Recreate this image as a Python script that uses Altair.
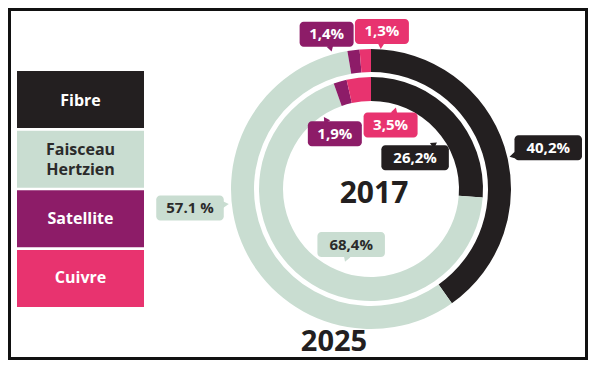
import altair as alt
import pandas as pd

# ---------------- data ----------------
categories = ["Fibre", "Faisceau Hertzien", "Satellite", "Cuivre"]
legend_text = ["Fibre", "Faisceau\nHertzien", "Satellite", "Cuivre"]
years = ["2025", "2017"]
values_2025 = [40.2, 57.1, 1.4, 1.3]
values_2017 = [26.2, 68.4, 1.9, 3.5]
labels_2025 = ["40,2%", "57.1 %", "1,4%", "1,3%"]
labels_2017 = ["26,2%", "68,4%", "1,9%", "3,5%"]
colors = ["#231f20", "#c9ddd1", "#8d1c68", "#e8336f"]

# ---------------- layout (not data) ----------------
W, H = 580, 352
CX, CY = 363, 181
ring_outer = {"2025": 140, "2017": 112}
ring_inner = {"2025": 117, "2017": 88}
label_shift_deg = {"2025": [4.5, 16.5, -8.8, 6.3], "2017": [7.6, -17.8, -17.2, 23.3]}
label_radius = {"2025": [182, 182, 161, 158], "2017": [54, 59, 66, 67]}
pointer_flip = {"2025": 1, "2017": 0}  # outer labels point inwards, inner outwards

vals = {"2025": values_2025, "2017": values_2017}
labs = {"2025": labels_2025, "2017": labels_2017}

rows = []
for y in years:
    for i, c in enumerate(categories):
        rows.append({
            "year": y, "category": c, "order": i, "value": vals[y][i],
            "label": labs[y][i], "shift": label_shift_deg[y][i],
            "lr": label_radius[y][i], "flip": pointer_flip[y],
        })
df = pd.DataFrame(rows)
legend_df = pd.DataFrame({"category": categories, "text": legend_text})
legend_df["multi"] = legend_df["text"].str.contains("\n")

color = alt.Color("category:N", scale=alt.Scale(domain=categories, range=colors), legend=None)
FONT = "Open Sans"

# ---------------- rings ----------------
def ring(year):
    return alt.Chart(df).transform_filter(alt.datum.year == year).mark_arc(
        radius=ring_outer[year], radius2=ring_inner[year]
    ).encode(
        theta=alt.Theta("value:Q", stack=True),
        color=color,
        order=alt.Order("order:Q"),
        x=alt.value(CX), y=alt.value(CY),
    )

# ---------------- labels ----------------
lab_base = alt.Chart(df).transform_window(
    cum="sum(value)", sort=[alt.SortField("order")], groupby=["year"]
).transform_calculate(
    a="((datum.cum - datum.value/2)/100*360 + datum.shift)*PI/180"
).transform_calculate(
    lx=f"{CX} + datum.lr*sin(datum.a)",
    ly=f"{CY} - datum.lr*cos(datum.a)",
    bw="length(replace(datum.label, ' ', ''))*13.5",
    bh="25",
    pa="datum.a + datum.flip*PI",
).transform_calculate(
    x1="datum.lx - datum.bw/2", x2="datum.lx + datum.bw/2",
    y1="datum.ly - datum.bh/2", y2="datum.ly + datum.bh/2",
    ux="sin(datum.pa)", uy="-cos(datum.pa)",
).transform_calculate(
    t="min((datum.bw/2)/max(abs(datum.ux),0.001), (datum.bh/2)/max(abs(datum.uy),0.001))",
).transform_calculate(
    px="datum.lx + datum.ux*(datum.t+2)",
    py="datum.ly + datum.uy*(datum.t+2)",
    pdeg="datum.pa*180/PI",
)

lab_box = lab_base.mark_rect(cornerRadius=4).encode(
    x=alt.X("x1:Q", scale=None, axis=None), x2="x2:Q",
    y=alt.Y("y1:Q", scale=None, axis=None), y2="y2:Q",
    color=color,
)
lab_ptr = lab_base.mark_point(shape="triangle-up", filled=True, size=50, opacity=1).encode(
    x=alt.X("px:Q", scale=None, axis=None),
    y=alt.Y("py:Q", scale=None, axis=None),
    angle=alt.Angle("pdeg:Q", scale=None),
    color=color,
)
lab_text = lab_base.mark_text(font=FONT, fontSize=15, fontWeight="bold", baseline="middle").encode(
    x=alt.X("lx:Q", scale=None, axis=None),
    y=alt.Y("ly:Q", scale=None, axis=None),
    text="label:N",
    fill=alt.condition("datum.category == 'Faisceau Hertzien'", alt.value("#2b2b2b"), alt.value("white")),
)

# ---------------- legend ----------------
ly_scale = alt.Scale(domain=categories, range=[63, 299], paddingInner=0.045, paddingOuter=0)
leg_rect = alt.Chart(legend_df).mark_rect().encode(
    x=alt.value(9), x2=alt.value(136),
    y=alt.Y("category:N", sort=categories, scale=ly_scale, axis=None),
    color=color,
)

def leg_text(multi):
    return alt.Chart(legend_df).transform_filter(
        alt.datum.multi == multi
    ).mark_text(
        font=FONT, fontSize=16, fontWeight="bold", lineBreak="\n", lineHeight=20,
        baseline="middle", dy=-10 if multi else 0,
    ).encode(
        x=alt.value(72.5),
        y=alt.Y("category:N", sort=categories, scale=ly_scale, axis=None),
        text="text:N",
        fill=alt.condition("datum.category == 'Faisceau Hertzien'", alt.value("#2b2b2b"), alt.value("white")),
    )

# ---------------- year titles ----------------
ydf = pd.DataFrame({"year": years})
y2017 = alt.Chart(ydf).transform_filter(alt.datum.year == "2017").mark_text(
    font=FONT, fontSize=30, fontWeight="bold", color="#231f20", baseline="middle"
).encode(text="year:N", x=alt.value(CX + 3), y=alt.value(CY + 5))
y2025 = alt.Chart(ydf).transform_filter(alt.datum.year == "2025").mark_text(
    font=FONT, fontSize=29, fontWeight="bold", color="#231f20", baseline="middle"
).encode(text="year:N", x=alt.value(CX - 37), y=alt.value(CY + 153))

frame = alt.Chart(pd.DataFrame({"a": [0]})).mark_rect(
    filled=False, stroke="#111111", strokeWidth=3
).encode(x=alt.value(1.5), x2=alt.value(W - 1.5), y=alt.value(1.5), y2=alt.value(H - 1.5))

chart = alt.layer(
    ring("2025"), ring("2017"), leg_rect, leg_text(False), leg_text(True),
    lab_ptr, lab_box, lab_text, y2017, y2025, frame
).resolve_scale(x="independent", y="independent").properties(
    width=W, height=H, padding=0, autosize=alt.AutoSizeParams(type="none")
).configure_view(stroke=None)

chart.save("out.html", embed_options={"renderer": "svg", "actions": False})
